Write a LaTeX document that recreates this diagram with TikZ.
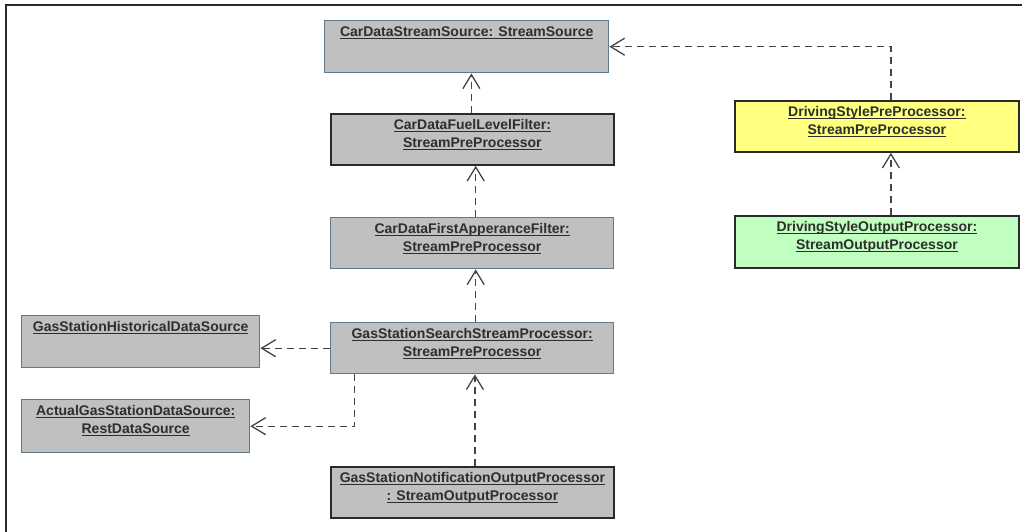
\documentclass[tikz,border=0pt]{standalone}
\usepackage{fontspec}
\setmainfont{Liberation Sans}
\usetikzlibrary{arrows.meta}

\definecolor{boxgray}{HTML}{C0C0C0}
\definecolor{edgeblue}{HTML}{5F7A8A}
\definecolor{edgedark}{HTML}{2A2A2A}
\definecolor{inkgray}{HTML}{2E2E2E}
\definecolor{preyellow}{HTML}{FFFF80}
\definecolor{outgreen}{HTML}{C0FFC0}
\definecolor{linkgray}{HTML}{444444}

% underlined line of text with a fixed rule offset
\newcommand\ulbox[1]{\leavevmode\setbox0\hbox{#1}\rlap{\rule[-2.3pt]{\wd0}{0.8pt}}\box0}
% box body: fixed width and height, text hung from the top
\newcommand\umlbody[3]{\parbox[c][#2][t]{#1}{\centering\rule{0pt}{15.5pt}#3}}

\tikzset{
  x=1pt, y=1pt,
  obj/.style={rectangle, inner sep=0pt, anchor=north west, fill=boxgray,
    text=inkgray, font=\fontsize{14}{18.5}\selectfont\bfseries},
  objblue/.style={obj, draw=edgeblue, line width=1.4pt},
  objdark/.style={obj, draw=edgedark, line width=1.8pt},
  dep/.style={draw=linkgray, line width=1.3pt, dash pattern=on 7pt off 5pt,
    -{Straight Barb[length=14pt,width=17pt,line width=1.3pt]}},
  frameline/.style={draw=edgedark, line width=2pt}
}

\begin{document}
\begin{tikzpicture}
\useasboundingbox (0,0) rectangle (1022,-532);

% outer frame (top and left edges)
\coordinate (fTR) at (1022,-5);
\coordinate (fTL) at (6,-5);
\coordinate (fBL) at (6,-532);
\draw[frameline] (fTR) -- (fTL) -- (fBL);

% objects
\node[objblue] (src) at (324,-20)
  {\umlbody{284pt}{52pt}{\ulbox{CarDataStreamSource: StreamSource}}};
\node[objdark] (fuel) at (330,-113)
  {\umlbody{283pt}{51pt}{\ulbox{CarDataFuelLevelFilter:}\\\ulbox{StreamPreProcessor}}};
\node[objblue] (first) at (330,-217)
  {\umlbody{283pt}{51pt}{\ulbox{CarDataFirstApperanceFilter:}\\\ulbox{StreamPreProcessor}}};
\node[objblue] (search) at (330,-322)
  {\umlbody{283pt}{51pt}{\ulbox{GasStationSearchStreamProcessor:}\\\ulbox{StreamPreProcessor}}};
\node[objdark] (notif) at (330,-466)
  {\umlbody{283pt}{51pt}{\ulbox{GasStationNotificationOutputProcessor}\\\ulbox{: StreamOutputProcessor}}};
\node[objblue] (hist) at (21,-315)
  {\umlbody{238pt}{52pt}{\ulbox{GasStationHistoricalDataSource}}};
\node[objblue] (actual) at (21,-399)
  {\umlbody{228pt}{53pt}{\ulbox{ActualGasStationDataSource:}\\\ulbox{RestDataSource}}};
\node[objdark, fill=preyellow] (dpre) at (734,-100)
  {\umlbody{284pt}{51pt}{\ulbox{DrivingStylePreProcessor:}\\\ulbox{StreamPreProcessor}}};
\node[objdark, fill=outgreen] (dout) at (734,-215)
  {\umlbody{284pt}{52pt}{\ulbox{DrivingStyleOutputProcessor:}\\\ulbox{StreamOutputProcessor}}};

% dependencies
\draw[dep] ([xshift=-1pt]fuel.north) -- ([xshift=-1pt]fuel.north |- src.south);
\draw[dep] ([xshift=3.5pt]first.north) -- ([xshift=3.5pt]first.north |- fuel.south);
\draw[dep] ([xshift=3.5pt]search.north) -- ([xshift=3.5pt]search.north |- first.south);
\draw[dep] ([xshift=2.5pt]notif.north) -- ([xshift=2.5pt]notif.north |- search.south);
\draw[dep] (search.west) -- (search.west -| hist.east);
\draw[dep] ([xshift=-117.5pt]search.south) |- (actual.east);
\draw[dep] ([xshift=14pt]dpre.north) |- (src.east);
\draw[dep] ([xshift=14pt]dout.north) -- ([xshift=14pt]dout.north |- dpre.south);
\end{tikzpicture}
\end{document}
